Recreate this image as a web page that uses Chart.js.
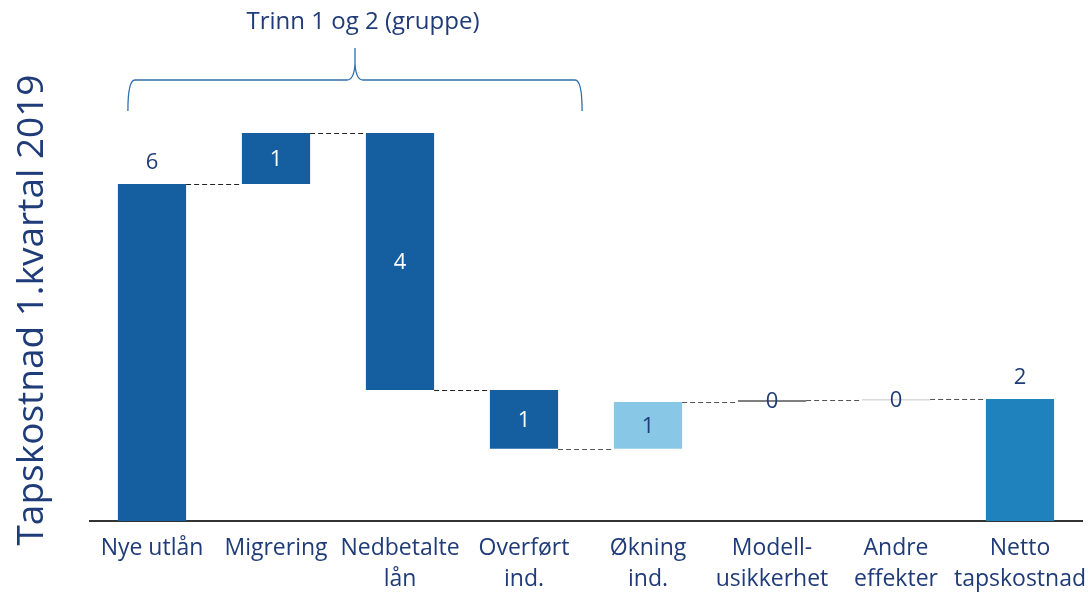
<!DOCTYPE html>
<html>
<head>
<meta charset="utf-8">
<title>Tapskostnad 1.kvartal 2019</title>
<script src="https://cdn.jsdelivr.net/npm/chart.js"></script>
<style>
body { margin: 0; background: #fff; }
#wrap { width: 1088px; height: 595px; }
</style>
</head>
<body>
<div id="wrap"><canvas id="chart"></canvas></div>
<script>
// waterfall data
const categories = [['Nye utlån'], ['Migrering'], ['Nedbetalte', 'lån'], ['Overført', 'ind.'],
  ['Økning', 'ind.'], ['Modell-', 'usikkerhet'], ['Andre', 'effekter'], ['Netto', 'tapskostnad']];
const barStart = [0, 6.02, 6.93, 2.34, 1.29, 2.125, 2.15, 0];
const barEnd = [6.02, 6.93, 2.34, 1.29, 2.125, 2.16, 2.18, 2.18];
const valueLabels = ['6', '1', '4', '1', '1', '0', '0', '2'];
const yTitle = 'Tapskostnad 1.kvartal 2019';
const groupTitle = 'Trinn 1 og 2 (gruppe)';

const navy = '#1f3b78';
const barColors = ['#155fa0', '#155fa0', '#155fa0', '#155fa0', '#88c7e6', '#7f7f7f', '#d9d9d9', '#1f82bc'];
const labelColors = [navy, '#fff', '#fff', '#fff', navy, navy, navy, navy];
const fontFam = '"Open Sans", Lato, sans-serif';

const extras = {
  id: 'extras',
  afterDatasetsDraw(chart) {
    const ctx = chart.ctx;
    const y = chart.scales.y;
    const bars = chart.getDatasetMeta(0).data;
    ctx.save();
    // connectors
    ctx.setLineDash([5, 3]);
    ctx.lineWidth = 1.2;
    for (let i = 0; i < bars.length - 1; i++) {
      const py = Math.round(y.getPixelForValue(barEnd[i])) + 0.5;
      ctx.strokeStyle = i < 3 ? '#222' : '#555';
      ctx.beginPath();
      ctx.moveTo(bars[i].x + bars[i].width / 2, py);
      ctx.lineTo(bars[i + 1].x - bars[i + 1].width / 2, py);
      ctx.stroke();
    }
    ctx.setLineDash([]);
    // value labels
    ctx.font = '22px ' + fontFam;
    ctx.textAlign = 'center';
    ctx.textBaseline = 'middle';
    bars.forEach((b, i) => {
      ctx.fillStyle = labelColors[i];
      const top = y.getPixelForValue(Math.max(barStart[i], barEnd[i]));
      const bot = y.getPixelForValue(Math.min(barStart[i], barEnd[i]));
      let ty = (top + bot) / 2 + 1;
      if (i === 0 || i === bars.length - 1) ty = top - 21;
      ctx.fillText(valueLabels[i], b.x, ty);
    });
    // brace over group
    const x0 = bars[0].x - bars[0].width / 2 + 10;
    const x1 = bars[3].x + bars[3].width / 2 + 24;
    const mid = (x0 + x1) / 2;
    ctx.strokeStyle = '#2e6fae';
    ctx.lineWidth = 1.3;
    ctx.beginPath();
    ctx.moveTo(x0, 111);
    ctx.quadraticCurveTo(x0, 80, x0 + 7, 80);
    ctx.lineTo(mid - 8, 80);
    ctx.quadraticCurveTo(mid - 1, 80, mid, 64);
    ctx.lineTo(mid, 48);
    ctx.moveTo(mid, 64);
    ctx.quadraticCurveTo(mid + 1, 80, mid + 8, 80);
    ctx.lineTo(x1 - 7, 80);
    ctx.quadraticCurveTo(x1, 80, x1, 111);
    ctx.stroke();
    ctx.fillStyle = navy;
    ctx.font = '24px ' + fontFam;
    ctx.fillText(groupTitle, mid + 8, 22);
    // y title
    ctx.translate(32, 310);
    ctx.rotate(-Math.PI / 2);
    ctx.font = '37px ' + fontFam;
    ctx.fillText(yTitle, 0, 0);
    ctx.restore();
  }
};

new Chart(document.getElementById('chart'), {
  type: 'bar',
  data: {
    labels: categories,
    datasets: [{
      data: barStart.map((s, i) => [s, barEnd[i]]),
      backgroundColor: barColors,
      borderWidth: 0,
      borderSkipped: false,
      barPercentage: 0.55,
      categoryPercentage: 1.0
    }]
  },
  options: {
    responsive: true,
    maintainAspectRatio: false,
    animation: false,
    layout: { padding: { left: 90, right: 6, top: 73, bottom: 0 } },
    plugins: { legend: { display: false }, tooltip: { enabled: false } },
    scales: {
      x: {
        afterFit(scale) {
          scale.height = 74;
          scale.paddingLeft = 0;
          scale.paddingRight = 0;
        },
        grid: { display: false, drawTicks: false },
        border: { color: '#333', width: 2 },
        ticks: { color: navy, font: { family: fontFam, size: 23, lineHeight: 1.35 }, padding: 12, maxRotation: 0, autoSkip: false }
      },
      y: {
        display: false,
        min: 0,
        max: 8
      }
    }
  },
  plugins: [extras]
});
</script>
</body>
</html>
